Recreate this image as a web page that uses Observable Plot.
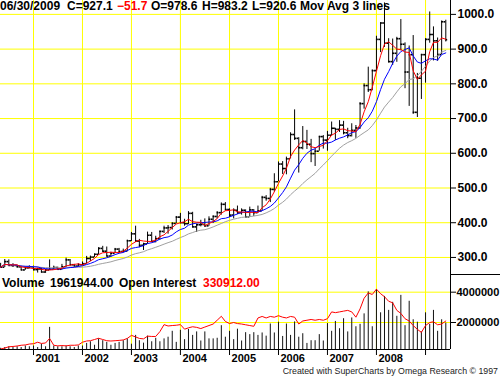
<!DOCTYPE html>
<html><head><meta charset="utf-8">
<script src="https://cdn.jsdelivr.net/npm/d3@7"></script>
<script src="https://cdn.jsdelivr.net/npm/@observablehq/plot@0.6"></script>
<style>
html,body{margin:0;padding:0;background:#fff;}
#wrap{position:relative;width:500px;height:377px;overflow:hidden;font-family:Arial,"Liberation Sans",sans-serif;background:#fff;}
#wrap svg{position:absolute;left:0;}
.hd{position:absolute;font-weight:bold;font-size:12px;line-height:12px;white-space:nowrap;color:#000;}
.red{color:#ff0000;}
.foot{position:absolute;font-size:8.8px;line-height:10px;white-space:nowrap;color:#222;}
.sep{position:absolute;left:450px;width:50px;height:1px;background:#000;}
</style></head><body><div id="wrap"></div>
<script>
// Monthly gold bars, first bar = May 2000 (dated by month)
const firstYear = 2000, firstMonth = 4; // May (0-based)
const open = [
 275,272,288,277,277,273,264,270,
 273,265,267,258,264,266,271,266,273,293,279,275,
 279,282,297,301,309,326,318,304,312,324,317,318,
 348,368,347,335,339,364,346,354,375,385,386,398,
 416,400,397,427,388,394,395,391,410,418,429,453,
 438,422,436,429,436,417,437,429,434,473,470,496,
 518,569,556,584,654,643,616,634,626,599,606,648,
 638,652,672,669,681,659,651,666,673,743,795,783,
 838,928,975,917,864,888,930,914,834,884,718,816,
 884,928,942,924,884,978.6];
const high = [
 283,294,293,282,277,275,273,276,
 275,269,270,265,293,275,272,280,298,294,280,282,
 287,303,304,310,328,332,330,315,326,326,324,350,
 372,390,352,341,373,372,361,376,390,392,400,418,
 427,410,432,430,396,407,411,417,420,432,457,458,
 440,440,448,440,437,445,438,448,476,478,499,541,
 575,576,589,659,725,645,677,666,640,612,649,651,
 663,690,672,694,692,672,685,680,746,800,848,840,
 937,976,1033,930,929,934,985,918,909,939,830,885,
 930,1007,964,932,981,983.2];
const low = [
 270,271,276,271,270,263,263,267,
 262,255,256,254,264,264,263,264,271,278,272,272,
 276,281,288,300,307,315,302,301,311,312,313,316,
 346,344,328,320,338,343,342,350,369,367,379,397,
 399,390,395,385,372,388,387,390,398,411,422,434,
 415,411,424,422,414,416,418,428,434,462,458,488,
 518,539,538,584,637,543,610,611,573,562,606,612,
 606,650,637,660,653,642,647,643,669,727,775,780,
 835,890,905,860,853,862,895,786,735,712,703,755,
 802,917,866,865,884,920.6];
const close = [
 272,288,277,277,273,264,270,273,
 265,267,258,264,266,271,266,273,293,279,275,279,
 282,297,301,309,326,318,304,312,324,317,318,348,
 368,347,335,339,364,346,354,375,385,386,398,416,
 400,397,427,388,394,395,391,410,418,429,453,438,
 422,436,429,436,417,437,429,434,473,470,496,518,
 569,556,584,654,643,616,634,626,599,606,648,638,
 652,672,669,681,659,651,666,673,743,795,783,838,
 928,975,917,864,888,930,914,834,884,718,816,884,
 928,942,924,884,978.8,927.1];
const volume = [
 300000,350000,400000,350000,400000,350000,450000,400000,
 450000,350000,570000,400000,1680000,450000,400000,400000,450000,400000,350000,450000,
 450000,620000,730000,500000,920000,800000,690000,500000,620000,690000,800000,920000,
 570000,1150000,800000,640000,1100000,730000,960000,730000,920000,1030000,1420000,690000,
 1490000,870000,1540000,1150000,1380000,780000,1380000,920000,920000,960000,1790000,1030000,
 1420000,870000,1560000,780000,1330000,1200000,1330000,1150000,1310000,1100000,1900000,1310000,
 2020000,1080000,1900000,1150000,2040000,1030000,1260000,620000,800000,800000,1200000,780000,
 1930000,1420000,2070000,1590000,2250000,1380000,2300000,1720000,1880000,2570000,4020000,1720000,
 4180000,2640000,3720000,2800000,3330000,2410000,3790000,1790000,3400000,2180000,2020000,1380000,
 2640000,1880000,2800000,1420000,2180000,1961944];
// Open interest line, as drawn on the volume panel's scale
const openInterestScaled = [
 250000,320000,400000,420000,450000,500000,520000,580000,
 600000,700000,620000,650000,950000,500000,460000,480000,460000,500000,500000,520000,
 700000,780000,800000,880000,960000,880000,800000,780000,800000,820000,850000,950000,
 1150000,1050000,950000,920000,1100000,1080000,1080000,1400000,1860000,1770000,1800000,1820000,
 1860000,1560000,1650000,1720000,1680000,1600000,1700000,1800000,1900000,2150000,2410000,2070000,
 1930000,2000000,1930000,1900000,1850000,1800000,1750000,2300000,2400000,2300000,2400000,2350000,
 2450000,2350000,2300000,2400000,2350000,1900000,2100000,2150000,2200000,2150000,2200000,2150000,
 2250000,2700000,2650000,2700000,2750000,2800000,2700000,2350000,2900000,3600000,3950000,3850000,
 4200000,3900000,3700000,3400000,3300000,2800000,2600000,2250000,2100000,1800000,1550000,1350000,
 1800000,2000000,2050000,1850000,1900000,2100000];
const lastDate = "06/30/2009";
const lastOpenInterest = 330912;
const maLengths = [4, 9, 18];
const maColors = ["#ff0000", "#0000ff", "#a0a0a0"];
const priceTicks = [300,400,500,600,700,800,900,1000];
const volumeTicks = [2000000, 4000000];
const tickYears = [2001,2002,2003,2004,2005,2006,2007,2008,2009];
const labelYears = ["2001","2002","2003","2004","2005","2006","2007","2008"];

const data = close.map((c, i) => ({
  date: new Date(Date.UTC(firstYear, firstMonth + i, 1)),
  open: open[i], high: high[i], low: low[i], close: c,
  volume: volume[i], oi: openInterestScaled[i]
}));
const xDomain = [new Date(Date.UTC(2000,3,30)), new Date(Date.UTC(2009,6,6))];
const yearDates = tickYears.map(y => new Date(Date.UTC(y,0,1)));
const yearLabelData = labelYears.map(s => ({date: new Date(Date.UTC(+s,0,1)), text: s}));
const priceDomain = [248, 1040];
const volDomain = [220000, 5100000];
const font = "Arial, 'Liberation Sans', sans-serif";
const half = 14; // days: length of open/close ticks

const priceChart = Plot.plot({
  width: 500, height: 275, marginTop: 0, marginBottom: 0, marginLeft: 0, marginRight: 50,
  style: {fontFamily: font, fontSize: "12px", fontWeight: "bold", background: "transparent", color: "#000", overflow: "visible"},
  x: {type: "utc", domain: xDomain, axis: null},
  y: {domain: priceDomain, axis: "right", ticks: priceTicks, tickFormat: d3.format(".1f"), tickSize: 5, tickPadding: 2, label: null},
  marks: [
    Plot.ruleY(priceTicks, {stroke: "#ffff00"}),
    Plot.ruleX(yearDates, {stroke: "#ffff00"}),
    Plot.ruleX([xDomain[1]], {stroke: "#000"}),
    Plot.ruleX(data, {x: "date", y1: "low", y2: "high", stroke: "#000", strokeWidth: 1}),
    Plot.ruleY(data, {x1: d => d3.utcDay.offset(d.date, -half), x2: "date", y: "open", stroke: "#000", strokeWidth: 1.6}),
    Plot.ruleY(data, {x1: "date", x2: d => d3.utcDay.offset(d.date, half), y: "close", stroke: "#000", strokeWidth: 1.6}),
    ...[2,1,0].map(j => Plot.line(data, Plot.windowY({k: maLengths[j], anchor: "end", reduce: "mean"}, {x: "date", y: "close", stroke: maColors[j], strokeWidth: 1})))
  ]
});

const volChart = Plot.plot({
  width: 500, height: 102, marginTop: 0, marginBottom: 28, marginLeft: 0, marginRight: 50,
  style: {fontFamily: font, fontSize: "11px", fontWeight: "bold", background: "transparent", color: "#000", overflow: "visible"},
  x: {type: "utc", domain: xDomain, ticks: yearDates, tickSize: 6, tickFormat: () => "", label: null},
  y: {domain: volDomain, axis: "right", ticks: volumeTicks, tickFormat: d3.format("d"), tickSize: 5, tickPadding: 1, label: null},
  marks: [
    Plot.ruleY(volumeTicks, {stroke: "#ffff00"}),
    Plot.ruleX(yearDates, {stroke: "#ffff00"}),
    Plot.ruleX(data, {x: "date", y1: volDomain[0], y2: "volume", stroke: "#111", strokeWidth: 1}),
    Plot.line(data, {x: "date", y: "oi", stroke: "#ff0000", strokeWidth: 1}),
    Plot.ruleY([volDomain[0]], {stroke: "#000"}),
    Plot.ruleX([xDomain[1]], {stroke: "#000"}),
    Plot.text(yearLabelData, {x: "date", text: "text", frameAnchor: "bottom", dy: 12, dx: 2, textAnchor: "start", fontSize: 11, fontWeight: "bold", fill: "#000"})
  ]
});

const wrap = document.getElementById("wrap");
priceChart.style.top = "0px";
volChart.style.top = "275px";
wrap.appendChild(priceChart);
wrap.appendChild(volChart);

const last = data[data.length - 1], prev = data[data.length - 2];
const f1 = d3.format(".1f"), f2 = d3.format(".2f");
const head = [
  [0, lastDate, ""], [67, "C=" + f1(last.close), ""], [117, f1(last.close - prev.close), "red"],
  [151, "O=" + f1(last.open), ""], [202, "H=" + f1(last.high), ""], [252, "L=" + f1(last.low), ""],
  [300, "Mov Avg 3 lines", ""],
  [2, "Volume", "", 277], [50, f2(last.volume), "", 277], [119, "Open Interest", "", 277], [203, f2(lastOpenInterest), "red", 277]
];
for (const [left, text, cls, top] of head) {
  const s = document.createElement("div");
  s.className = "hd " + cls;
  s.style.left = left + "px";
  s.style.top = (top || 0) + "px";
  s.textContent = text;
  wrap.appendChild(s);
}
const foot = document.createElement("div");
foot.className = "foot";
foot.style.right = "2px"; foot.style.top = "366px";
foot.textContent = "Created with SuperCharts by Omega Research © 1997";
wrap.appendChild(foot);
const sep = document.createElement("div");
sep.className = "sep"; sep.style.top = "274px";
wrap.appendChild(sep);
</script></body></html>
